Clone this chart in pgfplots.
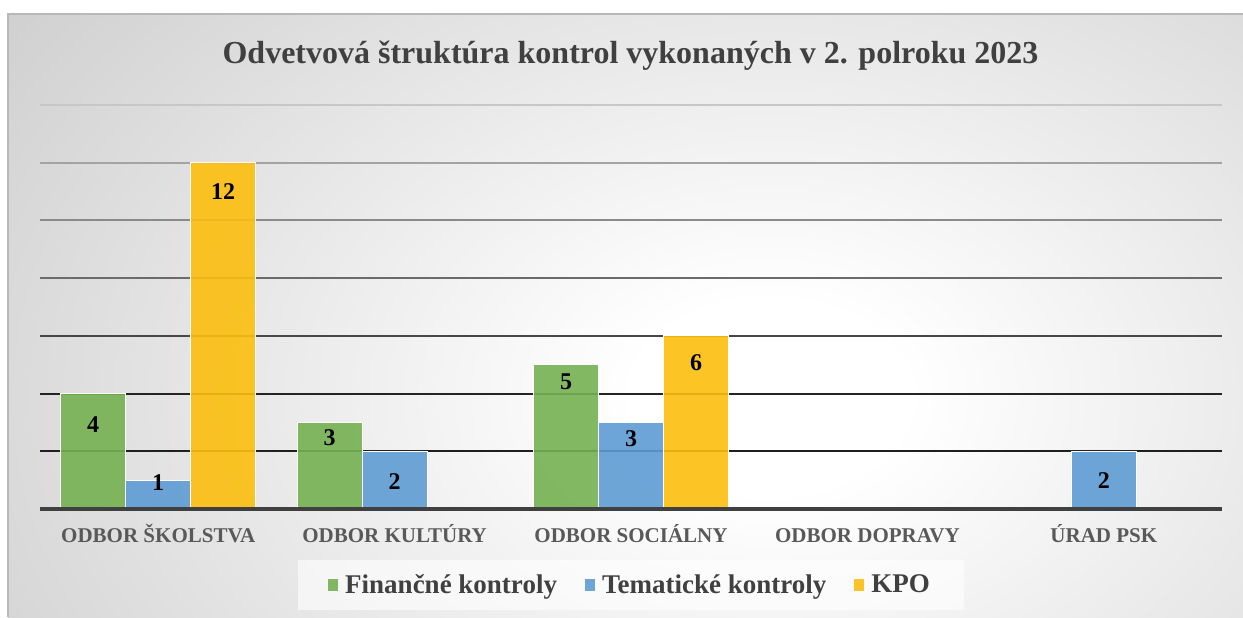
\documentclass[border=0pt]{standalone}
\usepackage{fontspec}
\setmainfont{Liberation Serif}
\usepackage{pgfplots}
\usepackage{pgfplotstable}
\pgfplotsset{compat=1.18}
\definecolor{cgreen}{RGB}{117,177,81}
\definecolor{cblue}{RGB}{95,156,212}
\definecolor{cyellow}{RGB}{252,190,14}
\definecolor{bgout}{RGB}{196,196,196}
\definecolor{titlec}{RGB}{64,64,64}
\definecolor{tickc}{RGB}{89,89,89}
\definecolor{basec}{RGB}{64,64,64}
\pgfdeclareradialshading{bgshade}{\pgfpoint{0bp}{0bp}}{color(0bp)=(white); color(3bp)=(white); color(25bp)=(bgout); color(50bp)=(bgout)}

\pgfplotstableread{
x y off
0 4 15.5
1 3 7.5
2 5 8.5
}\tgreen
\pgfplotstableread{
x y off
0 1 1
1 2 15
2 3 8
4 2 14.5
}\tblue
\pgfplotstableread{
x y off
0 12 14.5
2 6 13.5
}\tyellow

\begin{document}
\begin{tikzpicture}
\path[use as bounding box] (0,0) rectangle (621.5pt,308.5pt);
\fill[bgout] (4pt,0pt) rectangle (621.5pt,301.5pt);
\begin{scope}
\clip (4pt,0pt) rectangle (621.5pt,301.5pt);
\shade[shading=bgshade] (385pt,110pt) ellipse (570pt and 400pt);
\end{scope}
\draw[color=black!28, line width=0.6pt] (4pt,0pt) -- (4pt,301.5pt) -- (621.5pt,301.5pt);
\node[font=\bfseries\fontsize{16}{19}\selectfont, text=titlec] at (315.25pt,280.5pt) {Odvetvová štruktúra kontrol vykonaných v 2. polroku 2023};
\begin{axis}[
  at={(20pt,54pt)}, anchor=south west,
  scale only axis, width=591pt, height=202pt,
  xmin=-0.5, xmax=4.5, ymin=0, ymax=14,
  ybar=0pt, bar width=32.5pt,
  clip=false,
  axis line style={draw=none},
  xtick={0,1,2,3,4},
  xticklabels={ODBOR ŠKOLSTVA, ODBOR KULTÚRY, ODBOR SOCIÁLNY, ODBOR DOPRAVY, ÚRAD PSK},
  ytick=\empty,
  major tick length=0pt,
  xticklabel style={anchor=base, yshift=-16.5pt, font=\bfseries\fontsize{10.5}{12}\selectfont, text=tickc},
  legend columns=3,
  legend style={at={(0.5,-0.126)}, anchor=north, draw=none, fill=white, fill opacity=0.6, text opacity=1,
    font=\bfseries\fontsize{13.5}{15}\selectfont, text=titlec, inner xsep=15pt, inner ysep=5pt,
    /tikz/every even column/.append style={column sep=12pt}},
  nodes near coords={\pgfmathprintnumber[assume math mode=true]{\pgfplotspointmeta}},
  visualization depends on={\thisrow{off} \as \loff},
  every node near coord/.append style={anchor=center, yshift=-\loff pt, font=\bfseries\fontsize{12}{14}\selectfont, text=black},
]
\draw[color=black!88, line width=1pt] (axis cs:-0.5,2) -- (axis cs:4.5,2);
\draw[color=black!86, line width=1pt] (axis cs:-0.5,4) -- (axis cs:4.5,4);
\draw[color=black!72, line width=1pt] (axis cs:-0.5,6) -- (axis cs:4.5,6);
\draw[color=black!58, line width=1pt] (axis cs:-0.5,8) -- (axis cs:4.5,8);
\draw[color=black!46, line width=1pt] (axis cs:-0.5,10) -- (axis cs:4.5,10);
\draw[color=black!36, line width=1pt] (axis cs:-0.5,12) -- (axis cs:4.5,12);
\draw[color=black!22, line width=1pt] (axis cs:-0.5,14) -- (axis cs:4.5,14);
\addplot[fill=cgreen, draw=white, line width=0.5pt, fill opacity=0.9, text opacity=1,
  legend image code/.code={\fill[cgreen, draw=none] (0pt,-2.6pt) rectangle (4.8pt,3.4pt); \path[draw=none, fill=none] (0pt,0pt) -- (6.5pt,0pt);}] table[x=x, y=y] {\tgreen};
\addplot[fill=cblue, draw=white, line width=0.5pt, fill opacity=0.9, text opacity=1,
  legend image code/.code={\fill[cblue, draw=none] (0pt,-2.6pt) rectangle (4.8pt,3.4pt); \path[draw=none, fill=none] (0pt,0pt) -- (6.5pt,0pt);}] table[x=x, y=y] {\tblue};
\addplot[fill=cyellow, draw=white, line width=0.5pt, fill opacity=0.9, text opacity=1,
  legend image code/.code={\fill[cyellow, draw=none] (0pt,-2.6pt) rectangle (4.8pt,3.4pt); \path[draw=none, fill=none] (0pt,0pt) -- (6.5pt,0pt);}] table[x=x, y=y] {\tyellow};
\draw[color=basec, line width=1.6pt] (axis cs:-0.5,0) -- (axis cs:4.5,0);
\legend{Finančné kontroly, Tematické kontroly, KPO}
\end{axis}
\end{tikzpicture}
\end{document}
